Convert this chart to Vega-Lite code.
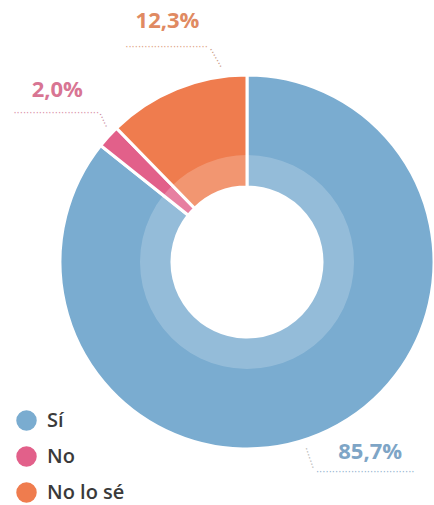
{
  "$schema": "https://vega.github.io/schema/vega-lite/v6.json",
  "width": 374,
  "height": 486,
  "autosize": "none",
  "padding": {"left": 60, "top": 19, "right": 0, "bottom": 0},
  "data": {
    "values": [
      {"respuesta": "Sí", "porcentaje": 85.7, "etiqueta": "85,7%", "orden": 1},
      {"respuesta": "No", "porcentaje": 2.0, "etiqueta": "2,0%", "orden": 2},
      {"respuesta": "No lo sé", "porcentaje": 12.3, "etiqueta": "12,3%", "orden": 3}
    ]
  },
  "encoding": {
    "theta": {"field": "porcentaje", "type": "quantitative", "stack": true},
    "order": {"field": "orden", "type": "ordinal"}
  },
  "layer": [
    {
      "mark": {"type": "arc", "outerRadius": 187, "innerRadius": 75, "stroke": "white", "strokeWidth": 3},
      "encoding": {
        "color": {
          "field": "respuesta",
          "type": "nominal",
          "scale": {"domain": ["Sí", "No", "No lo sé"], "range": ["#7aacd0", "#e2608a", "#ef7c4e"]},
          "legend": {
            "title": null,
            "orient": "none",
            "legendX": -44,
            "legendY": 391,
            "padding": 0,
            "symbolType": "circle",
            "symbolSize": 420,
            "symbolStrokeWidth": 0,
            "rowPadding": 15,
            "labelOffset": 10,
            "labelFontSize": 20,
            "labelFont": "Open Sans",
            "labelFontWeight": 600,
            "labelColor": "#3a3a3a"
          }
        }
      }
    },
    {
      "mark": {"type": "arc", "outerRadius": 107, "innerRadius": 75, "fill": "white", "fillOpacity": 0.2, "strokeWidth": 0}
    },
    {
      "mark": {"type": "text", "radius": 187, "dx": 42, "dy": 22, "font": "Open Sans", "fontWeight": "bold", "fontSize": 22, "color": "#7ea5c6", "align": "center", "baseline": "middle"},
      "encoding": {"text": {"condition": {"test": "datum.respuesta === 'Sí'", "field": "etiqueta"}, "value": ""}}
    },
    {
      "mark": {"type": "text", "radius": 187, "dx": -51, "dy": -47, "font": "Open Sans", "fontWeight": "bold", "fontSize": 22, "color": "#d87593", "align": "center", "baseline": "middle"},
      "encoding": {"text": {"condition": {"test": "datum.respuesta === 'No'", "field": "etiqueta"}, "value": ""}}
    },
    {
      "mark": {"type": "text", "radius": 187, "dx": -9, "dy": -68, "font": "Open Sans", "fontWeight": "bold", "fontSize": 22, "color": "#e08a62", "align": "center", "baseline": "middle"},
      "encoding": {"text": {"condition": {"test": "datum.respuesta === 'No lo sé'", "field": "etiqueta"}, "value": ""}}
    },
    {
      "mark": {"type": "text", "radius": 187, "dx": 37, "dy": 42, "font": "DejaVu Sans", "fontSize": 10, "color": "#93b3cf", "align": "center", "baseline": "middle"},
      "encoding": {"text": {"condition": {"test": "datum.respuesta === 'Sí'", "value": "·······························"}, "value": ""}}
    },
    {
      "mark": {"type": "text", "radius": 187, "dx": 20, "dy": 27, "angle": 71, "font": "DejaVu Sans", "fontSize": 10, "color": "#a9a9a9", "align": "center", "baseline": "middle"},
      "encoding": {"text": {"condition": {"test": "datum.respuesta === 'Sí'", "value": "·······"}, "value": ""}}
    },
    {
      "mark": {"type": "text", "radius": 187, "dx": -52, "dy": -24, "font": "DejaVu Sans", "fontSize": 10, "color": "#d990a7", "align": "center", "baseline": "middle"},
      "encoding": {"text": {"condition": {"test": "datum.respuesta === 'No'", "value": "···························"}, "value": ""}}
    },
    {
      "mark": {"type": "text", "radius": 187, "dx": -17, "dy": -2, "angle": 65, "font": "DejaVu Sans", "fontSize": 10, "color": "#c98a9e", "align": "center", "baseline": "middle"},
      "encoding": {"text": {"condition": {"test": "datum.respuesta === 'No'", "value": "·····"}, "value": ""}}
    },
    {
      "mark": {"type": "text", "radius": 187, "dx": -10, "dy": -42, "font": "DejaVu Sans", "fontSize": 10, "color": "#e0a284", "align": "center", "baseline": "middle"},
      "encoding": {"text": {"condition": {"test": "datum.respuesta === 'No lo sé'", "value": "··························"}, "value": ""}}
    },
    {
      "mark": {"type": "text", "radius": 187, "dx": -7, "dy": -49, "angle": 60, "font": "DejaVu Sans", "fontSize": 10, "color": "#c99a84", "align": "center", "baseline": "middle"},
      "encoding": {"text": {"condition": {"test": "datum.respuesta === 'No lo sé'", "value": "·······"}, "value": ""}}
    }
  ],
  "config": {"view": {"stroke": null}}
}
